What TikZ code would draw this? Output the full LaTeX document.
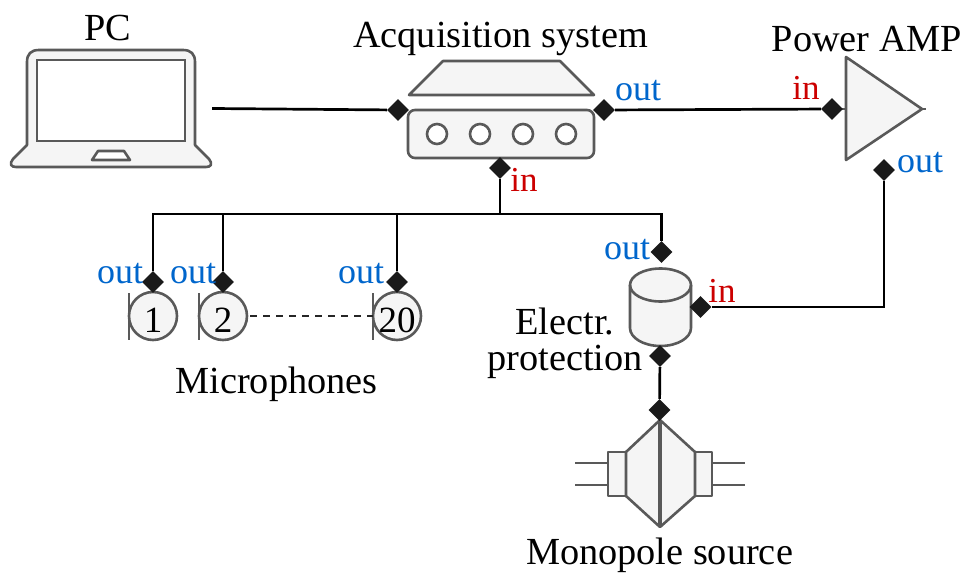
\documentclass[tikz,border=0pt]{standalone}
\usepackage{fontspec}
\setmainfont{Liberation Serif}
\usetikzlibrary{shapes.geometric,backgrounds}
\definecolor{edge}{HTML}{595959}
\definecolor{body}{HTML}{F5F5F5}
\definecolor{outblue}{HTML}{0066CC}
\definecolor{inred}{HTML}{CC0000}
\definecolor{port}{HTML}{1A1A1A}
\tikzset{
  part/.style={draw=edge,fill=body,line width=2.6pt,line join=round},
  hole/.style={draw=edge,fill=white,line width=2.6pt},
  wire/.style={draw=black,line width=2.7pt},
  portd/.style={diamond,fill=port,draw=none,inner sep=0pt,minimum width=22pt,minimum height=22pt},
  lab/.style={font=\fontsize{38.3}{40}\selectfont,text=black,anchor=base,inner sep=0pt},
  olab/.style={font=\fontsize{36}{38}\selectfont,text=outblue,anchor=base,inner sep=0pt},
  ilab/.style={font=\fontsize{35}{38}\selectfont,text=inred,anchor=base,inner sep=0pt},
  miccircle/.style={circle,draw=edge,fill=body,line width=2.6pt,minimum size=48pt,inner sep=0pt},
  numlab/.style={font=\fontsize{37}{38}\selectfont,text=black,anchor=base,inner sep=0pt},
  ghost/.style={draw=none,fill=none,inner sep=0pt}
}
\begin{document}
\begin{tikzpicture}[x=1pt,y=-1pt]
\useasboundingbox (0,0) rectangle (968,575);
% laptop
\draw[part] (27,145) -- (27,62) .. controls (27,54) and (31,50) .. (39,50) -- (183,50) .. controls (191,50) and (195,54) .. (195,62) -- (195,145)
  -- (209,159) .. controls (213,164) and (211,167) .. (206,167) -- (16,167) .. controls (11,167) and (9,164) .. (13,159) -- cycle;
\draw[hole] (37,60) rectangle (185,141);
\draw[hole,line join=round] (98,151) -- (124,151) -- (130,160) -- (92,160) -- cycle;
\node[ghost,minimum width=201pt,minimum height=117pt] (pc) at (111.5,108.5) {};
% acquisition system
\draw[part] (443,61) -- (560,61) -- (594,95) -- (409,95) -- cycle;
\draw[part,rounded corners=7pt] (408,110) rectangle (594,158);
\foreach \cx in {437,480,523,566} \draw[hole] (\cx,134) circle[radius=10];
\node[ghost,minimum width=186pt,minimum height=48pt] (acq) at (501,134) {};
% amplifier
\draw[part] (846,57) -- (922,109) -- (846,160) -- cycle;
\draw[edge,line width=2.2pt] (922,109) -- (926,109);
\draw[edge,line width=2.2pt] (842,109) -- (846,109);
% microphones
\node[miccircle] (m1) at (153,316) {};
\node[miccircle] (m2) at (223,316) {};
\node[miccircle] (m20) at (397,316) {};
\foreach \bx in {129,199,373} \draw[edge,line width=2.6pt] (\bx,293) -- (\bx,340);
\coordinate (dashend) at (373,316);
\draw[draw=black!85,line width=2.2pt,dash pattern=on 7pt off 6pt] (m2.east) ++(2,0) -- (dashend);
% cylinder
\draw[part] (630,285) -- (630,328) arc[start angle=180,end angle=0,x radius=30.5,y radius=18] -- (691,285) arc[start angle=0,end angle=-180,x radius=30.5,y radius=16.5] -- cycle;
\draw[part,fill=none] (630,285) arc[start angle=180,end angle=0,x radius=30.5,y radius=16.5];
% monopole source
\foreach \sy in {463,485} {
  \draw[edge,line width=2.6pt] (575,\sy) -- (608,\sy);
  \draw[edge,line width=2.6pt] (712,\sy) -- (745,\sy);
}
\draw[part] (608,452) rectangle (626,496);
\draw[part] (695,452) rectangle (712,496);
\draw[part] (660,420) -- (695,452) -- (695,496) -- (660,527) -- (626,496) -- (626,452) -- cycle;
\draw[edge,line width=4pt] (660,420) -- (660,527);
% ports
\node[portd] (acqL) at (398,110) {};
\node[portd] (acqR) at (604,110) {};
\node[portd] (acqB) at (500,168) {};
\node[portd] (ampI) at (832,109) {};
\node[portd] (ampO) at (884,170) {};
\node[portd] (m1p) at (153,282) {};
\node[portd] (m2p) at (223,282) {};
\node[portd] (m20p) at (397,282) {};
\node[portd] (cylT) at (661.5,252) {};
\node[portd] (cylR) at (700.5,307) {};
\node[portd] (cylB) at (660,356) {};
\node[portd] (srcT) at (659.5,410) {};
% connectors
\coordinate (bus) at (500,214);
\draw[wire] (pc.east) -- (acqL);
\draw[wire] (acqR) -- (ampI);
\draw[wire] (acqB) -- (bus);
\draw[wire] (m1p.north) |- (bus) -| (cylT.north);
\draw[wire] (m2p.north) |- (bus);
\draw[wire] (m20p.north) |- (bus);
\draw[wire] (ampO.south) |- (cylR.east);
\draw[wire] (cylB) -- (srcT);
% labels
\node[lab] (tpc) at (108,41) {PC};
\node[lab] (tacq) at (500.5,48) {Acquisition system};
\node[lab] (tamp) at (867,52) {Power AMP};
\node[lab] (tmic) at (276.5,393) {Microphones};
\node[lab] (tel) at (565,334) {Electr.};
\node[lab] (tpr) at (565,370) {protection};
\node[lab] (tmono) at (659.5,564) {Monopole source};
\node[numlab] (n1) at (153,332) {1};
\node[numlab] (n2) at (223,332) {2};
\node[numlab] (n20) at (397,332) {20};
\node[olab] (o1) at (638,101) {out};
\node[olab] (o2) at (920,172) {out};
\node[olab] (o3) at (120,283) {out};
\node[olab] (o4) at (193,283) {out};
\node[olab] (o5) at (361,283) {out};
\node[olab] (o6) at (627,259) {out};
\node[ilab] (i1) at (806,100) {in};
\node[ilab] (i2) at (524,191) {in};
\node[ilab] (i3) at (722,302) {in};
\end{tikzpicture}
\end{document}
